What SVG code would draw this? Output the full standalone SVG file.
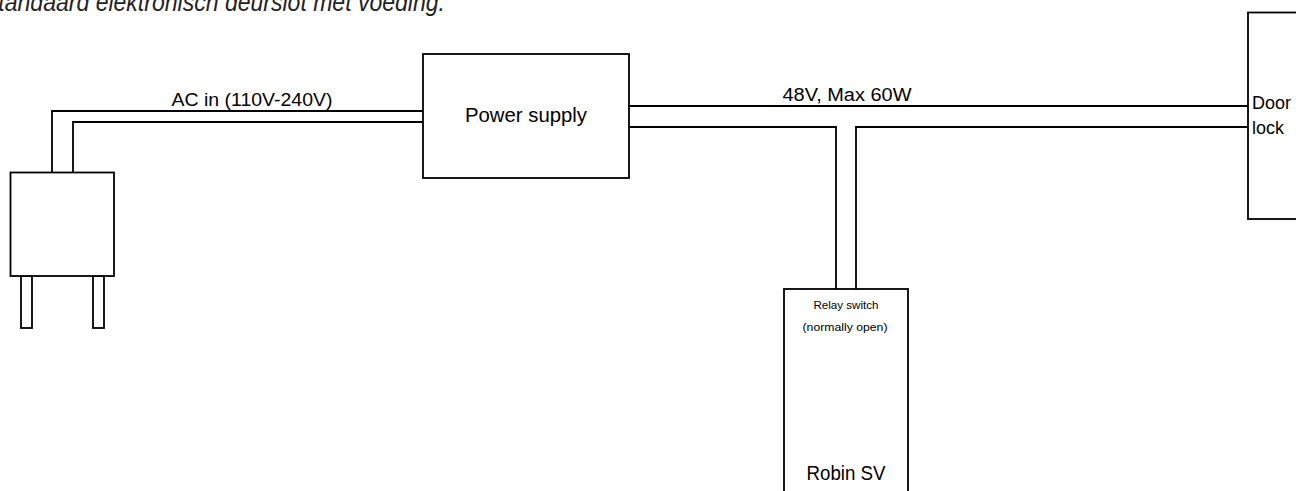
<svg xmlns="http://www.w3.org/2000/svg" width="1296" height="491" viewBox="0 0 1296 491">
<style>
.box{fill:#fff;stroke:#000;stroke-width:1.8}
.wire{fill:none;stroke:#000;stroke-width:1.8}
.t{font-family:"Liberation Sans",Arial,sans-serif;fill:#000}
.title{font-family:"Liberation Sans",Arial,sans-serif;font-style:italic;fill:#222;font-size:26px}
</style>
<rect width="1296" height="491" fill="#fff"/>
<text class="title" x="-17" y="10.5" textLength="462" lengthAdjust="spacingAndGlyphs">Standaard elektronisch deurslot met voeding.</text>
<g id="connectors">
<polyline class="wire" points="52,172 52,111 423,111"/>
<polyline class="wire" points="73,172 73,122 423,122"/>
<polyline class="wire" points="629,106 1248,106"/>
<polyline class="wire" points="629,127 836,127 836,289"/>
<polyline class="wire" points="1248,127 856,127 856,289"/>
<text class="t" x="252" y="106" font-size="17.5" text-anchor="middle" textLength="161" lengthAdjust="spacingAndGlyphs">AC in (110V-240V)</text>
<text class="t" x="847" y="101" font-size="17.5" text-anchor="middle" textLength="129" lengthAdjust="spacingAndGlyphs">48V, Max 60W</text>
</g>
<g id="plug">
<rect class="box" x="21" y="276" width="11" height="52"/>
<rect class="box" x="93" y="276" width="11" height="52"/>
<rect class="box" x="10.5" y="172.5" width="103.5" height="103.5"/>
</g>
<g id="power-supply">
<rect class="box" x="423" y="54" width="206" height="124"/>
<text class="t" x="526" y="122" font-size="19.5" text-anchor="middle" textLength="122" lengthAdjust="spacingAndGlyphs">Power supply</text>
</g>
<g id="door-lock">
<rect class="box" x="1248" y="12.5" width="60" height="206.5"/>
<text class="t" x="1252" y="109" font-size="18">Door</text>
<text class="t" x="1252" y="134" font-size="18">lock</text>
</g>
<g id="robin-sv">
<rect class="box" x="784" y="289" width="124" height="220"/>
<text class="t" x="846" y="309" font-size="11" text-anchor="middle" textLength="65" lengthAdjust="spacingAndGlyphs">Relay switch</text>
<text class="t" x="845" y="331" font-size="11" text-anchor="middle" textLength="85" lengthAdjust="spacingAndGlyphs">(normally open)</text>
<text class="t" x="846" y="480" font-size="20" text-anchor="middle" textLength="79" lengthAdjust="spacingAndGlyphs">Robin SV</text>
</g>
</svg>
